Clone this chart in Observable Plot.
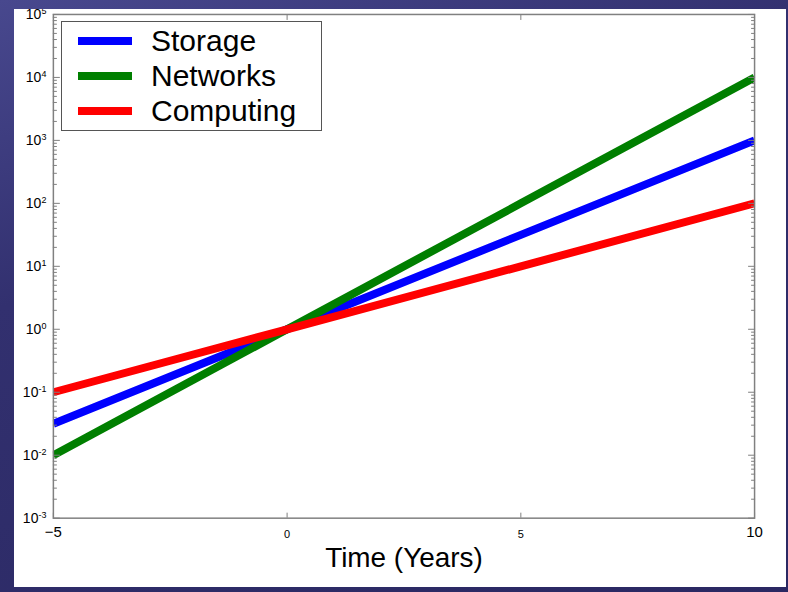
<!DOCTYPE html>
<html><head><meta charset="utf-8">
<script src="https://cdn.jsdelivr.net/npm/d3@7"></script>
<script src="https://cdn.jsdelivr.net/npm/@observablehq/plot@0.6"></script>
<style>
html,body{margin:0;padding:0;width:788px;height:592px;overflow:hidden;}
body{background:linear-gradient(160deg,#48488e 0%,#32306f 35%,#2a2862 100%);position:relative;font-family:"Liberation Sans",Arial,sans-serif;}
#panel{position:absolute;left:14px;top:9px;width:772px;height:578px;background:#fff;overflow:hidden;}
#chart{position:absolute;left:-14px;top:-9px;}
#legend{position:absolute;left:61px;top:21px;width:259px;height:108px;border:1px solid #555;background:#fff;}
.sw{position:absolute;left:16px;width:54px;height:8px;}
.lab{position:absolute;left:89px;font-size:30px;color:#000;line-height:30px;white-space:nowrap;}
</style></head>
<body>
<div id="panel"><div id="chart"></div></div>
<div id="legend"></div>
<script>
const years = [-5, 0, 5, 10];
const storage = [0.0316, 1, 31.6, 1000];
const networks = [0.01, 1, 100, 10000];
const computing = [0.1, 1, 10, 100];
const seriesNames = ["Storage", "Networks", "Computing"];
const seriesColors = ["#0000ff", "#007f00", "#ff0000"];
const yMajor = [1e-3, 1e-2, 1e-1, 1e0, 1e1, 1e2, 1e3, 1e4, 1e5];
const xEdgeTicks = [-5, 10];
const xInnerTicks = [0, 5];
const xLabel = "Time (Years)";

const rows = [];
[storage, networks, computing].forEach((vals, i) =>
  years.forEach((x, j) => rows.push({series: seriesNames[i], x, y: vals[j]})));

const yMinor = [];
for (let d = -3; d < 5; d++) for (let m = 2; m <= 9; m++) yMinor.push(m * Math.pow(10, d));

const tickGray = "#808080";
const blank = () => "";
const chart = Plot.plot({
  width: 788, height: 592,
  marginLeft: 53, marginRight: 32, marginTop: 14, marginBottom: 73,
  style: {background: "transparent", color: "#000", fontFamily: "Liberation Sans, Arial, sans-serif", overflow: "visible"},
  x: {domain: [-5, 10]},
  y: {type: "log", domain: [1e-3, 1e5]},
  color: {domain: seriesNames, range: seriesColors},
  marks: [
    Plot.line(rows, {x: "x", y: "y", z: "series", stroke: "series", strokeWidth: 8, strokeLinecap: "butt", clip: true}),
    Plot.frame({stroke: tickGray, strokeWidth: 1.5}),
    Plot.axisY(yMajor, {anchor: "left", tickSize: 7, insetLeft: 7, tickPadding: 7, fontSize: 14, stroke: tickGray, label: null,
      tickFormat: d => "10^" + Math.round(Math.log10(d))}),
    Plot.axisY(yMinor, {anchor: "left", tickSize: 4, insetLeft: 4, tickFormat: blank, stroke: tickGray, label: null}),
    Plot.axisY(yMajor, {anchor: "right", tickSize: 7, insetRight: 7, tickFormat: blank, stroke: tickGray, label: null}),
    Plot.axisY(yMinor, {anchor: "right", tickSize: 4, insetRight: 4, tickFormat: blank, stroke: tickGray, label: null}),
    Plot.axisX(xEdgeTicks, {anchor: "bottom", tickSize: 5, insetBottom: 5, tickPadding: 8, fontSize: 15, stroke: tickGray, label: null}),
    Plot.axisX(xInnerTicks, {anchor: "bottom", tickSize: 5, insetBottom: 5, tickPadding: 12, fontSize: 11, stroke: tickGray, label: null}),
    Plot.axisX(xInnerTicks, {anchor: "top", tickSize: 5, insetTop: 5, tickFormat: blank, stroke: tickGray, label: null}),
    Plot.axisX({ticks: [], anchor: "bottom", tickSize: 0, label: xLabel, labelAnchor: "center", labelOffset: 49, fontSize: 28, labelArrow: "none"})
  ]
});
document.getElementById("chart").appendChild(chart);

// superscript exponents on y tick labels
chart.querySelectorAll("text").forEach(t => {
  const m = /^10\^(-?\d+)$/.exec(t.textContent);
  if (!m) return;
  while (t.firstChild) t.removeChild(t.firstChild);
  const ns = "http://www.w3.org/2000/svg";
  const base = document.createElementNS(ns, "tspan");
  base.textContent = "10";
  const sup = document.createElementNS(ns, "tspan");
  sup.textContent = m[1];
  sup.setAttribute("dy", "-0.55em");
  sup.setAttribute("font-size", "9px");
  t.appendChild(base); t.appendChild(sup);
});

// legend
const legend = document.getElementById("legend");
seriesNames.forEach((name, i) => {
  const sw = document.createElement("div");
  sw.className = "sw";
  sw.style.top = (15 + 35 * i) + "px";
  sw.style.background = seriesColors[i];
  legend.appendChild(sw);
  const lab = document.createElement("div");
  lab.className = "lab";
  lab.style.top = (4 + 35 * i) + "px";
  lab.textContent = name;
  legend.appendChild(lab);
});
</script>
</body></html>
